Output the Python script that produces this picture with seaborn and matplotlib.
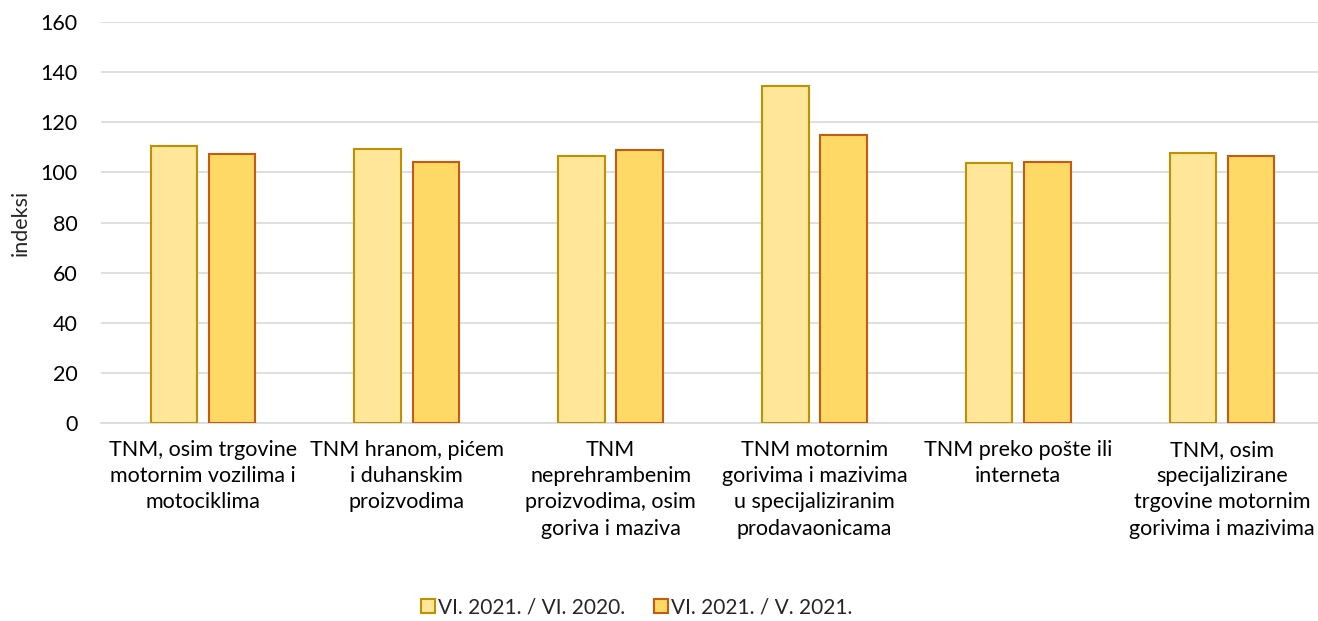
import matplotlib
matplotlib.use("Agg")
import matplotlib.pyplot as plt
import seaborn as sns
import pandas as pd
from matplotlib.patches import Patch

categories = [
    "TNM, osim trgovine\nmotornim vozilima i\nmotociklima",
    "TNM hranom, pićem\ni duhanskim\nproizvodima",
    "TNM\nneprehrambenim\nproizvodima, osim\ngoriva i maziva",
    "TNM motornim\ngorivima i mazivima\nu specijaliziranim\nprodavaonicama",
    "TNM preko pošte ili\ninterneta",
    "TNM, osim\nspecijalizirane\ntrgovine motornim\ngorivima i mazivima",
]
series_names = ["VI. 2021. / VI. 2020.", "VI. 2021. / V. 2021."]
vals_yoy = [110.5, 109.3, 106.5, 134.3, 103.8, 107.7]
vals_mom = [107.4, 104.0, 109.0, 114.9, 104.2, 106.6]
y_ticks = [0, 20, 40, 60, 80, 100, 120, 140, 160]

fills = ["#FFE699", "#FFD966"]
edges = ["#BF9000", "#C55A11"]

df = pd.DataFrame({
    "cat": categories * 2,
    "series": [series_names[0]] * 6 + [series_names[1]] * 6,
    "val": vals_yoy + vals_mom,
})

sns.set_theme(style="white")
plt.rcParams["font.family"] = ["Lato", "DejaVu Sans"]
FS = 15.5

fig = plt.figure(figsize=(13.18, 6.21), dpi=100)
ax = fig.add_axes([0.0766, 0.3188, 0.928, 0.6458])

sns.barplot(data=df, x="cat", y="val", hue="series", hue_order=series_names,
            palette=fills, saturation=1, width=0.57, gap=0.2, ax=ax, legend=False,
            linewidth=1.5, zorder=3)

for i, cont in enumerate(ax.containers):
    for p in cont:
        p.set_facecolor(fills[i])
        p.set_edgecolor(edges[i])
        p.set_linewidth(1.5)

ax.set_ylim(0, 160)
ax.set_xlim(-0.5, 5.5)
ax.set_yticks(y_ticks)
ax.yaxis.grid(True, color="#D9D9D9", linewidth=1.2, zorder=0)
ax.set_axisbelow(True)
for s in ["top", "right", "left"]:
    ax.spines[s].set_visible(False)
ax.spines["bottom"].set_color("#D9D9D9")
ax.spines["bottom"].set_linewidth(1.2)
ax.tick_params(axis="y", length=0, labelsize=FS, pad=17, colors="#000000")
ax.tick_params(axis="x", length=0, labelsize=FS, pad=12, colors="#000000")
ax.set_xlabel("")
ax.set_ylabel("indeksi", fontsize=FS, labelpad=7)
for lbl in ax.get_xticklabels():
    lbl.set_linespacing(1.4)

handles = [Patch(facecolor=fills[i], edgecolor=edges[i], linewidth=1.5, label=series_names[i])
           for i in range(2)]
fig.legend(handles=handles, loc="center", bbox_to_anchor=(0.483, 0.022), ncol=2,
           frameon=False, fontsize=15, handlelength=0.65, handleheight=0.65,
           handletextpad=0.15, columnspacing=1.4, borderpad=0.1)

fig.savefig("out.png", dpi=100)
